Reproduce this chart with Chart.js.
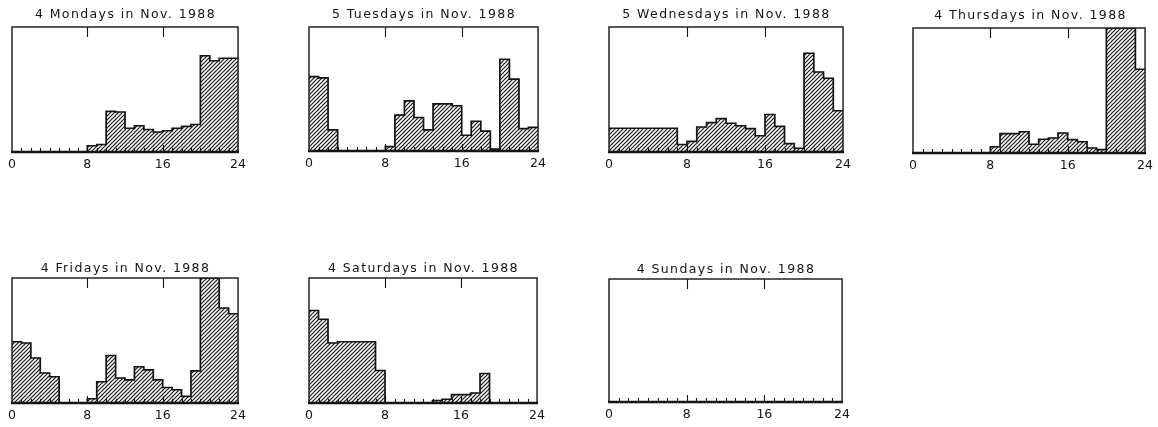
<!DOCTYPE html>
<html>
<head>
<meta charset="utf-8">
<script src="https://cdn.jsdelivr.net/npm/chart.js@4/dist/chart.umd.min.js"></script>
<style>
html,body{margin:0;padding:0;background:#fff;overflow:hidden;width:1158px;height:427px;position:relative}
canvas{position:absolute;display:block}
</style>
</head>
<body>
<script>
// ---- data ----
const hours = [0,1,2,3,4,5,6,7,8,9,10,11,12,13,14,15,16,17,18,19,20,21,22,23];
const tickLabels = [0, 8, 16, 24];
const titles = [
  "4 Mondays in Nov. 1988",
  "5 Tuesdays in Nov. 1988",
  "5 Wednesdays in Nov. 1988",
  "4 Thursdays in Nov. 1988",
  "4 Fridays in Nov. 1988",
  "4 Saturdays in Nov. 1988",
  "4 Sundays in Nov. 1988"
];
const monday    = [0,0,0,0,0,0,0,0,5,6,32.5,32,19,21,18,16,17,19,20.5,22,77,73,75,75];
const tuesday   = [60,59,17,0,0,0,0,0,3.5,29,40.5,27,17,38,38,36.5,12.7,24,16,1.5,74,58,18,19];
const wednesday = [19,19,19,19,19,19,19,6,8.5,20,23.5,26.7,23,21,18.7,13,30,20.5,6.7,3,79,64,59,33];
const thursday  = [0,0,0,0,0,0,0,0,5,15.5,15.5,17,7,11,12,16,10.7,9,4,2.7,100,100,100,67];
const friday    = [49,48,36,24,21,0,0,0,3.4,17,38,20,18.5,29,26.5,18.5,12.4,10.6,5.3,25.7,100,100,76,71.4];
const saturday  = [74,67,48,49,49,49,49,26,0,0,0,0,0,2,3,6.7,6.7,8,23.6,0,0,0,0,0];
const sunday    = [0,0,0,0,0,0,0,0,0,0,0,0,0,0,0,0,0,0,0,0,0,0,0,0];
const series = [monday, tuesday, wednesday, thursday, friday, saturday, sunday];

// ---- layout (plot-box positions in page pixels) ----
const layout = [
  {left: 12,  top: 27,  w: 227, h: 125, titlePad: 5},
  {left: 309, top: 27,  w: 230, h: 124, titlePad: 5},
  {left: 609, top: 27,  w: 235, h: 125, titlePad: 5},
  {left: 913, top: 28,  w: 235, h: 125, titlePad: 5},
  {left: 12,  top: 278, w: 227, h: 125, titlePad: 2},
  {left: 309, top: 278, w: 229, h: 125, titlePad: 2},
  {left: 609, top: 279, w: 234, h: 123, titlePad: 2}
];
const TITLE_H = 15;   // 12.5px * 1.2
const AXIS_H = 24;
const INK = '#141414';

// hatch pattern
function makeHatch() {
  const s = 4;
  const c = document.createElement('canvas');
  c.width = s; c.height = s;
  const g = c.getContext('2d');
  g.strokeStyle = '#1a1a1a';
  g.lineWidth = 1.2;
  g.beginPath();
  g.moveTo(0, s); g.lineTo(s, 0);
  g.moveTo(-1, 1); g.lineTo(1, -1);
  g.moveTo(s - 1, s + 1); g.lineTo(s + 1, s - 1);
  g.stroke();
  return g.createPattern(c, 'repeat');
}
const hatch = makeHatch();

const framePlugin = {
  id: 'frame',
  beforeDraw(chart) { chart.ctx.letterSpacing = '1.4px'; },
  beforeDatasetsDraw(chart) { chart.ctx.letterSpacing = '0px'; },
  afterDatasetsDraw(chart) {
    const ctx = chart.ctx;
    const {left, right, top, bottom} = chart.chartArea;
    const xs = chart.scales.x;
    ctx.save();
    ctx.strokeStyle = INK;
    ctx.lineWidth = 1.4;
    ctx.strokeRect(left, top, right - left, bottom - top);
    ctx.lineWidth = 2.6;
    ctx.beginPath(); ctx.moveTo(left - 1, bottom); ctx.lineTo(right + 1, bottom); ctx.stroke();
    ctx.lineWidth = 1.1;
    ctx.beginPath();
    hours.forEach(h => {
      if (h === 0) return;
      const px = Math.round(xs.getPixelForValue(h)) + 0.5;
      const len = (h % 8 === 0) ? 7 : 4;
      ctx.moveTo(px, bottom); ctx.lineTo(px, bottom - len);
      if (h % 8 === 0) { ctx.moveTo(px, top); ctx.lineTo(px, top + 10); }
    });
    ctx.stroke();
    ctx.restore();
  }
};

series.forEach((values, i) => {
  const p = layout[i];
  const padL = 12;
  const padR = Math.min(12, 1158 - (p.left + p.w));
  const canvas = document.createElement('canvas');
  const W = p.w + padL + padR;
  const H = TITLE_H + p.titlePad + p.h + AXIS_H;
  canvas.width = W; canvas.height = H;
  canvas.style.width = W + 'px'; canvas.style.height = H + 'px';
  canvas.style.left = (p.left - padL) + 'px';
  canvas.style.top = (p.top - TITLE_H - p.titlePad) + 'px';
  document.body.appendChild(canvas);

  const barData = values.map((v, h) => ({x: hours[h] + 0.5, y: v}));
  const stepData = values.map((v, h) => ({x: hours[h], y: v}));
  stepData.push({x: 24, y: values[values.length - 1]});

  new Chart(canvas, {
    type: 'bar',
    data: {
      datasets: [
        {
          type: 'line',
          data: stepData,
          stepped: 'before',
          borderColor: INK,
          borderWidth: 1.7,
          pointRadius: 0,
          fill: false,
          order: 1
        },
        {
          type: 'bar',
          data: barData,
          backgroundColor: hatch,
          borderWidth: 0,
          barPercentage: 1,
          categoryPercentage: 1,
          order: 2
        }
      ]
    },
    options: {
      responsive: false,
      animation: false,
      devicePixelRatio: 1,
      layout: {padding: {left: padL, right: padR, top: 0, bottom: 0}},
      plugins: {
        legend: {display: false},
        tooltip: {enabled: false},
        title: {
          display: true,
          text: titles[i],
          color: INK,
          font: {family: 'DejaVu Sans', size: 12.5, weight: 'normal', lineHeight: 1.2},
          padding: {top: 0, bottom: p.titlePad}
        }
      },
      scales: {
        x: {
          type: 'linear',
          min: 0, max: 24,
          offset: false,
          grid: {display: false, drawTicks: false},
          border: {display: false},
          afterBuildTicks: s => { s.ticks = tickLabels.map(v => ({value: v})); },
          afterFit: s => { s.height = AXIS_H; },
          ticks: {
            autoSkip: false,
            maxRotation: 0,
            padding: 5,
            z: 1,
            color: INK,
            font: {family: 'DejaVu Sans', size: 12.5, lineHeight: 1.2},
            callback: v => String(v)
          }
        },
        y: {display: false, min: 0, max: 100}
      }
    },
    plugins: [framePlugin]
  });
});
</script>
</body>
</html>
